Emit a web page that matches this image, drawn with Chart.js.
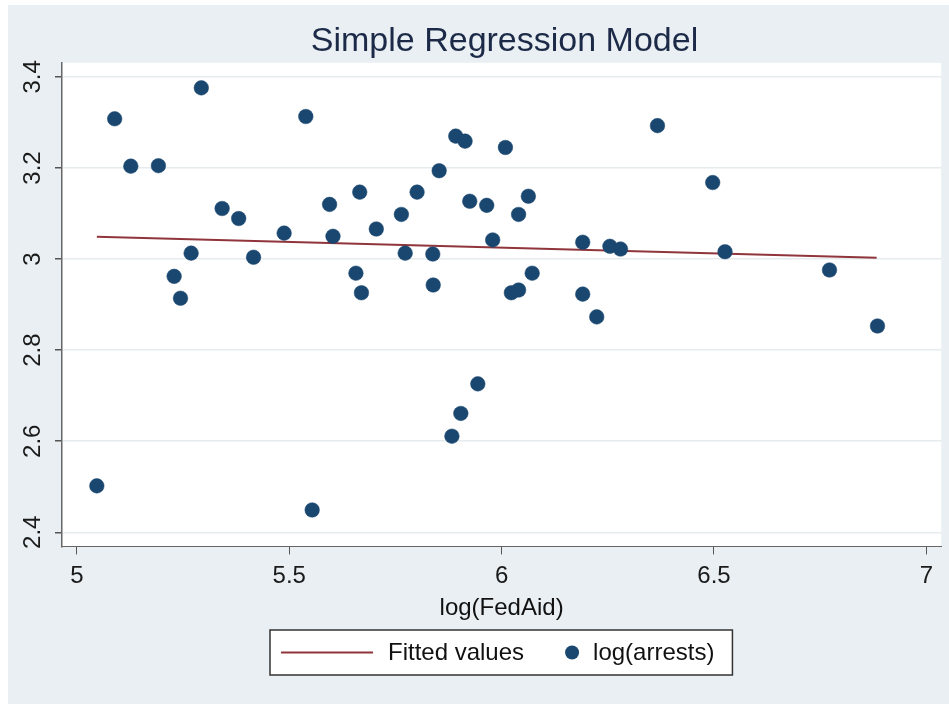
<!DOCTYPE html>
<html>
<head>
<meta charset="utf-8">
<title>Simple Regression Model</title>
<script src="https://cdn.jsdelivr.net/npm/chart.js@4.4.1/dist/chart.umd.min.js"></script>
<style>
  body { margin: 0; background: #fff; }
  #wrap { width: 949px; height: 704px; position: relative; }
</style>
</head>
<body>
<div id="wrap"><canvas id="regChart"></canvas></div>
<script>
// values
let logFedAid = [5.047, 5.089, 5.127, 5.192, 5.229, 5.244, 5.269, 5.293, 5.342, 5.381,
                 5.416, 5.488, 5.539, 5.554, 5.595, 5.603, 5.657, 5.666, 5.670, 5.705,
                 5.764, 5.773, 5.801, 5.839, 5.838, 5.853, 5.883, 5.892, 5.904, 5.914,
                 5.925, 5.944, 5.965, 5.979, 6.009, 6.023, 6.040, 6.040, 6.063, 6.072,
                 6.191, 6.191, 6.224, 6.255, 6.280, 6.367, 6.497, 6.526, 6.772, 6.885];
let logArrests = [2.502, 3.308, 3.204, 3.205, 2.962, 2.914, 3.013, 3.376, 3.111, 3.089,
                  3.004, 3.057, 3.313, 2.449, 3.120, 3.050, 2.969, 3.147, 2.926, 3.066,
                  3.098, 3.013, 3.147, 2.943, 3.011, 3.194, 2.611, 3.270, 2.661, 3.259,
                  3.127, 2.726, 3.118, 3.042, 3.245, 2.926, 2.932, 3.098, 3.138, 2.969,
                  3.037, 2.923, 2.873, 3.028, 3.022, 3.293, 3.168, 3.016, 2.976, 2.853];
let fitX = [5.047, 6.883];
let fitY = [3.049, 3.003];
let xTicks = [5, 5.5, 6, 6.5, 7];
let yTicks = [2.4, 2.6, 2.8, 3, 3.2, 3.4];

const FONT = '"Liberation Sans", Arial, sans-serif';
const NAVY = '#1a476f';
const MAROON = '#90353b';
const BG = '#e9eff2';

let pointsData = logFedAid.map((x, i) => ({x: x, y: logArrests[i]}));
let fitData = fitX.map((x, i) => ({x: x, y: fitY[i]}));

// grey graph region with white plot region
let backdrop = {
    id: 'backdrop',
    beforeDraw(chart) {
        let ctx = chart.ctx;
        let a = chart.chartArea;
        ctx.save();
        ctx.fillStyle = '#ffffff';
        ctx.fillRect(0, 0, chart.width, chart.height);
        ctx.fillStyle = BG;
        ctx.fillRect(8, 5, chart.width - 8, chart.height - 5);
        ctx.fillStyle = '#ffffff';
        ctx.fillRect(a.left, a.top, a.right - a.left, a.bottom - a.top);
        ctx.restore();
    }
};

// rotated y tick labels and the boxed legend
let extras = {
    id: 'extras',
    afterDraw(chart) {
        let ctx = chart.ctx;
        let ys = chart.scales.y;
        let xs = chart.scales.x;
        ctx.save();
        ctx.fillStyle = '#1a1a1a';
        ctx.font = '24px ' + FONT;
        ctx.textAlign = 'center';
        ctx.textBaseline = 'middle';
        ys.ticks.forEach(t => {
            let py = ys.getPixelForValue(t.value);
            ctx.save();
            ctx.translate(33, py);
            ctx.rotate(-Math.PI / 2);
            ctx.fillText(t.label, 0, 0);
            ctx.restore();
        });

        // legend
        let fit = chart.data.datasets[1];
        let pts = chart.data.datasets[0];
        let w1 = ctx.measureText(fit.label).width;
        let w2 = ctx.measureText(pts.label).width;
        let padL = 11, lineLen = 92, gap1 = 15, gap2 = 41, r = 7, gap3 = 14, padR = 18;
        let boxW = padL + lineLen + gap1 + w1 + gap2 + 2 * r + gap3 + w2 + padR;
        let cx = (chart.chartArea.left + chart.chartArea.right) / 2;
        let bx = Math.round(cx - boxW / 2);
        let by = Math.round(xs.bottom + 7);
        let bh = 45;
        let my = by + bh / 2;
        ctx.fillStyle = '#ffffff';
        ctx.fillRect(bx, by, boxW, bh);
        ctx.strokeStyle = '#333333';
        ctx.lineWidth = 1.5;
        ctx.strokeRect(bx, by, boxW, bh);

        let x = bx + padL;
        ctx.strokeStyle = fit.borderColor;
        ctx.lineWidth = 2;
        ctx.beginPath();
        ctx.moveTo(x, my);
        ctx.lineTo(x + lineLen, my);
        ctx.stroke();
        x += lineLen + gap1;
        ctx.fillStyle = '#111111';
        ctx.textAlign = 'left';
        ctx.fillText(fit.label, x, my + 1);
        x += w1 + gap2;
        ctx.fillStyle = pts.backgroundColor;
        ctx.beginPath();
        ctx.arc(x + r, my, r, 0, Math.PI * 2);
        ctx.fill();
        x += 2 * r + gap3;
        ctx.fillStyle = '#111111';
        ctx.fillText(pts.label, x, my + 1);
        ctx.restore();
    }
};

let ctx = document.getElementById('regChart').getContext('2d');

let config = {
    type: 'scatter',
    data: {
        datasets: [{
            label: 'log(arrests)',
            data: pointsData,
            backgroundColor: NAVY,
            borderColor: NAVY,
            borderWidth: 0.5,
            pointRadius: 7.3,
            pointHoverRadius: 7.3
        }, {
            type: 'line',
            label: 'Fitted values',
            data: fitData,
            borderColor: MAROON,
            backgroundColor: MAROON,
            borderWidth: 2,
            pointRadius: 0,
            showLine: true,
            fill: false
        }]
    },
    options: {
        animation: false,
        responsive: true,
        maintainAspectRatio: false,
        layout: {
            padding: {left: 62, right: 2, top: 0, bottom: 81}
        },
        plugins: {
            legend: {display: false},
            tooltip: {enabled: false},
            title: {
                display: true,
                text: 'Simple Regression Model',
                color: '#1c2a48',
                font: {family: FONT, size: 34, weight: 'normal'},
                padding: {top: 21, bottom: 1}
            }
        },
        scales: {
            x: {
                type: 'linear',
                min: 4.965,
                max: 7.035,
                afterBuildTicks: s => { s.ticks = xTicks.map(v => ({value: v})); },
                ticks: {
                    color: '#1a1a1a',
                    font: {family: FONT, size: 24},
                    padding: 8,
                    maxRotation: 0,
                    callback: v => String(v)
                },
                grid: {
                    display: true,
                    drawOnChartArea: false,
                    drawTicks: true,
                    tickLength: 8,
                    tickColor: '#555555'
                },
                border: {display: true, color: '#666666', width: 1},
                title: {
                    display: true,
                    text: 'log(FedAid)',
                    color: '#111111',
                    font: {family: FONT, size: 24},
                    padding: {top: -5, bottom: 0}
                }
            },
            y: {
                type: 'linear',
                min: 2.369,
                max: 3.431,
                afterBuildTicks: s => { s.ticks = yTicks.map(v => ({value: v})); },
                afterFit: s => { s.width = 0; },
                ticks: {
                    display: false,
                    callback: v => String(v)
                },
                grid: {
                    color: '#e6ecee',
                    lineWidth: 1.5,
                    drawTicks: true,
                    tickLength: 7,
                    tickColor: '#555555'
                },
                border: {display: true, color: '#666666', width: 1.5}
            }
        }
    },
    plugins: [backdrop, extras]
};

let regChart = new Chart(ctx, config);
</script>
</body>
</html>
